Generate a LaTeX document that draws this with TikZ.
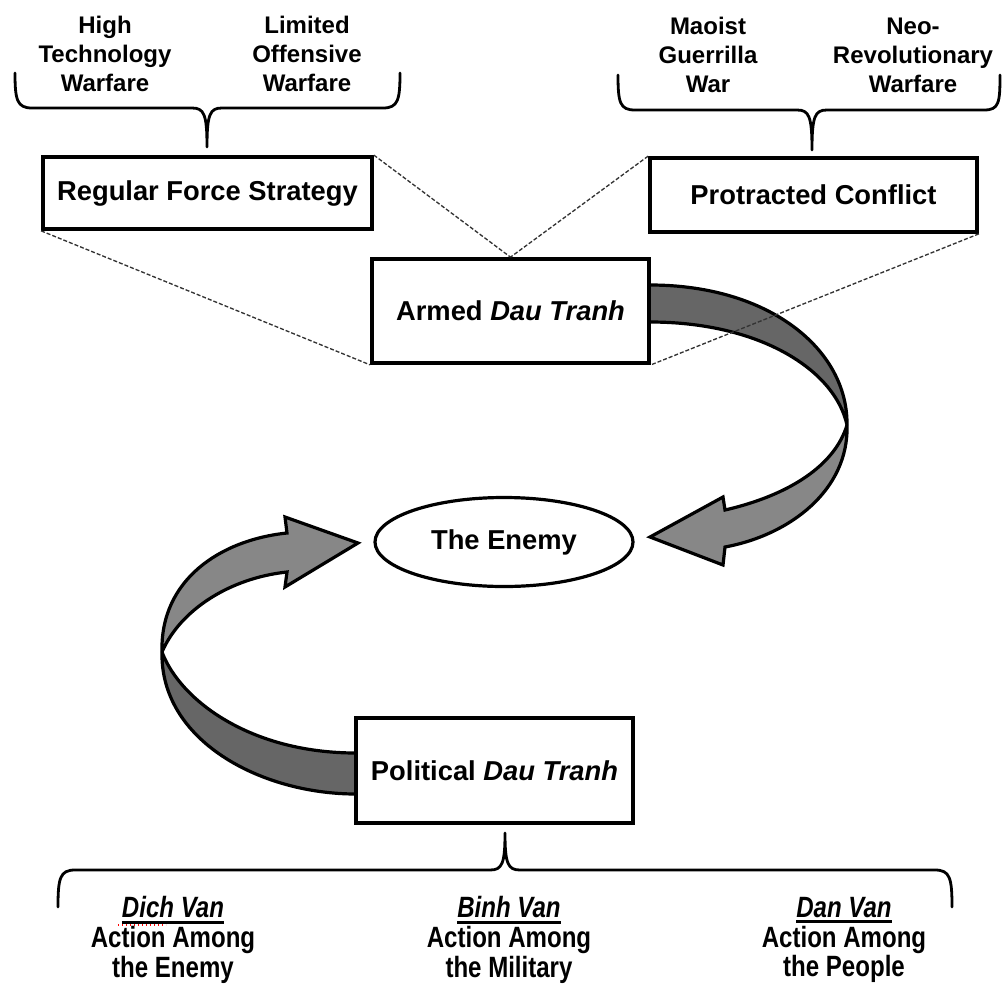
\documentclass[tikz,border=0pt]{standalone}
\usepackage{fontspec}
\setmainfont{Liberation Sans}
\newfontfamily\narrowfont[FakeStretch=0.82]{Liberation Sans}
\newcommand{\myuline}[1]{\leavevmode\setbox0=\hbox{#1}\rlap{\copy0}\rule[-4.2pt]{\wd0}{2.2pt}}
\usetikzlibrary{shapes.geometric}
\definecolor{ribdark}{RGB}{102,102,102}
\definecolor{riblight}{RGB}{135,135,135}
\begin{document}
\begin{tikzpicture}[x=0.75pt,y=-0.75pt,
  box/.style={draw, line width=2.8pt, fill=white, inner sep=0pt,
    font=\fontsize{20.5}{24}\selectfont\bfseries},
  lab/.style={font=\fontsize{18}{21.75}\selectfont\bfseries, align=center, inner sep=0pt},
  blab/.style={font=\narrowfont\fontsize{22}{22.2}\selectfont\bfseries, align=center, inner sep=0pt},
  zoomline/.style={draw=black!80, line width=1pt, dash pattern=on 3pt off 1.5pt},
  bracestyle/.style={draw, line width=2.1pt, line cap=round, line join=round},
  ribbon/.style={draw, line width=2.4pt, line join=miter, miter limit=4}]
\useasboundingbox (0,0) rectangle (1002,985);

% ribbons (curved arrows)
\filldraw[ribbon, fill=ribdark] (640,285) -- (650,285) .. controls (770,285) and (848,350) .. (847,425)
  .. controls (835,370) and (760,322) .. (650,322) -- (640,322) -- cycle;
\filldraw[ribbon, fill=riblight] (847,425) .. controls (849,490) and (790,535) .. (725,547)
  -- (723,565) -- (650,537) -- (723,497) -- (725,510)
  .. controls (790,495) and (835,465) .. (847,425) -- cycle;
\filldraw[ribbon, fill=riblight] (162,652) .. controls (160,580) and (220,540) .. (287,533)
  -- (285,517) -- (358,543) -- (285,587) -- (287,572)
  .. controls (230,578) and (180,610) .. (162,652) -- cycle;
\filldraw[ribbon, fill=ribdark] (162,652) .. controls (180,700) and (250,753) .. (356,753)
  -- (366,753) -- (366,794) -- (356,794) .. controls (260,794) and (160,740) .. (162,652) -- cycle;

% boxes
\node[box, minimum width=246.75pt, minimum height=54pt] (reg) at (207.5,193) {Regular Force Strategy};
\node[box, minimum width=245.25pt, minimum height=55.5pt] (prot) at (813.5,195) {Protracted Conflict};
\node[box, minimum width=207.75pt, minimum height=78pt] (armed) at (510.5,311) {Armed \textit{Dau Tranh}};
\node[box, minimum width=207.75pt, minimum height=78.75pt] (pol) at (494.5,770.5) {Political \textit{Dau Tranh}};
\node[box, ellipse, line width=2.4pt, minimum width=193.5pt, minimum height=66.75pt] (enemy) at (504,542) {The Enemy};

% dashed zoom lines
\draw[zoomline] (reg.south west) -- (armed.south west);
\draw[zoomline] (reg.north east) -- (armed.north);
\draw[zoomline] (prot.north west) -- (armed.north);
\draw[zoomline] (prot.south east) -- (armed.south east);

% top labels
\node[lab] (hi) at (105,54) {High\\Technology\\Warfare};
\node[lab] (lim) at (307,54) {Limited\\Offensive\\Warfare};
\node[lab] (mao) at (708,55) {Maoist\\Guerrilla\\War};
\node[lab] (neo) at (913,55) {Neo-\\Revolutionary\\Warfare};

% braces
\draw[bracestyle] (15,73) .. controls (15,100) and (17,108) .. (32,108) -- (192,108)
  .. controls (204,108) and (207,114) .. (207,147) .. controls (207,114) and (210,108) .. (222,108)
  -- (383,108) .. controls (398,108) and (400,100) .. (400,73);
\draw[bracestyle] (618,75) .. controls (618,103) and (620,110) .. (635,110) -- (797,110)
  .. controls (809,110) and (812,116) .. (812,150) .. controls (812,116) and (815,110) .. (827,110)
  -- (984,110) .. controls (999,110) and (1000,103) .. (1000,75);
\draw[bracestyle] (58,907) .. controls (58,878) and (60,870) .. (75,870) -- (490,870)
  .. controls (502,870) and (505,864) .. (505,833) .. controls (505,864) and (508,870) .. (520,870)
  -- (935,870) .. controls (950,870) and (952,878) .. (952,907);

% bottom labels
\node[blab] (dich) at (173,940) {\myuline{\itshape Dich Van}\\Action Among\\the Enemy};
\node[blab] (binh) at (509,940) {\myuline{\itshape Binh Van}\\Action Among\\the Military};
\node[blab] (dan) at (844,940) {\myuline{\itshape Dan Van}\\Action Among\\the People};
\draw[red, line width=0.9pt, dash pattern=on 1pt off 2pt] (118,925) -- (166,925);
\end{tikzpicture}
\end{document}
